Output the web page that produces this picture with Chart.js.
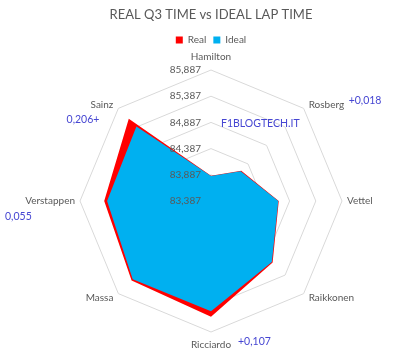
<!DOCTYPE html>
<html>
<head>
<meta charset="utf-8">
<script src="https://cdn.jsdelivr.net/npm/chart.js@4"></script>
<style>
  html, body { margin: 0; padding: 0; background: #fff; }
  #wrap { width: 420px; height: 353px; }
</style>
</head>
<body>
<div id="wrap"><canvas id="radar" width="420" height="353"></canvas></div>
<script>
// piloti (assi) e tempi in secondi
const drivers = ['Hamilton', 'Rosberg', 'Vettel', 'Raikkonen', 'Ricciardo', 'Massa', 'Verstappen', 'Sainz'];
const realTimes  = [83.870, 84.205, 84.680, 85.050, 85.597, 85.530, 85.425, 85.606];
const idealTimes = [83.864, 84.187, 84.671, 85.030, 85.490, 85.500, 85.370, 85.400];
const tickValues = [83.387, 83.887, 84.387, 84.887, 85.387, 85.887];
const tickLabels = ['83,387', '83,887', '84,387', '84,887', '85,387', '85,887'];
// note a mano sul grafico: [indice pilota, testo]
const gapNotes = [[1, '+0,018'], [4, '+0,107'], [6, '0,055'], [7, '0,206+']];

const textGrey = '#595959';
const noteBlue = '#4646d2';
const FONT = 'Lato, "Open Sans", sans-serif';

/* -------- etichette, tick e note -------- */
const radarText = {
  id: 'radarText',
  afterDraw(chart) {
    const r = chart.scales.r;
    const ctx = chart.ctx;
    const R = r.drawingArea;
    ctx.save();
    ctx.font = '10px ' + FONT;
    ctx.fillStyle = textGrey;

    // valori della scala, a sinistra dell'asse Hamilton
    ctx.textAlign = 'right';
    ctx.textBaseline = 'middle';
    tickValues.forEach((v, i) => {
      const d = r.getDistanceFromCenterForValue(v);
      ctx.fillText(tickLabels[i], r.xCenter - 10, r.yCenter - d);
    });

    // nomi piloti
    drivers.forEach((name, i) => {
      const p = r.getPointPosition(i, R);
      let x = p.x, y = p.y;
      if (i === 0) { ctx.textAlign = 'center'; y -= 13; }
      else if (i === 4) { ctx.textAlign = 'center'; y += 13; }
      else if (i < 4) { ctx.textAlign = 'left'; x += 5; y += (i === 1 ? -4 : i === 3 ? 4 : 0); }
      else { ctx.textAlign = 'right'; x -= 5; y += (i === 7 ? -4 : i === 5 ? 4 : 0); }
      ctx.fillText(name, x, y);
    });

    // note sui distacchi
    ctx.fillStyle = noteBlue;
    ctx.font = '10.5px ' + FONT;
    gapNotes.forEach(([i, txt]) => {
      const p = r.getPointPosition(i, R);
      if (i === 1) { ctx.textAlign = 'left'; ctx.fillText(txt, p.x + 45, p.y - 8); }
      if (i === 4) { ctx.textAlign = 'left'; ctx.fillText(txt, p.x + 27, p.y + 10); }
      if (i === 6) { ctx.textAlign = 'left'; ctx.fillText(txt, p.x - 75, p.y + 16); }
      if (i === 7) { ctx.textAlign = 'right'; ctx.fillText(txt, p.x - 19, p.y + 11); }
    });

    ctx.textAlign = 'left';
    ctx.fillText('F1BLOGTECH.IT', r.xCenter + 10, r.yCenter - r.getDistanceFromCenterForValue(84.887) + 1);
    ctx.restore();
  }
};

new Chart(document.getElementById('radar').getContext('2d'), {
  type: 'radar',
  data: {
    labels: drivers,
    datasets: [
      { label: 'Real', data: realTimes, backgroundColor: '#ff0000', borderWidth: 0, fill: true, pointRadius: 0, order: 2 },
      { label: 'Ideal', data: idealTimes, backgroundColor: '#00b0f0', borderWidth: 0, fill: true, pointRadius: 0, order: 1 }
    ]
  },
  options: {
    responsive: false,
    animation: false,
    layout: { padding: { left: 80, right: 78, top: 0, bottom: 6 } },
    elements: { line: { tension: 0 } },
    scales: {
      r: {
        min: 83.387,
        max: 85.887,
        afterBuildTicks: s => { s.ticks = tickValues.map(v => ({ value: v })); },
        ticks: { display: false },
        pointLabels: { display: false },
        angleLines: { display: false },
        grid: { circular: false, color: '#d9d9d9', lineWidth: 1 }
      }
    },
    plugins: {
      title: {
        display: true,
        text: 'REAL Q3 TIME vs IDEAL LAP TIME',
        color: textGrey,
        font: { family: FONT, size: 13, weight: 'normal' },
        padding: { top: 7, bottom: 5.4 }
      },
      legend: {
        display: true,
        labels: {
          color: textGrey,
          font: { family: FONT, size: 10 },
          boxWidth: 7,
          boxHeight: 7,
          padding: 7,
          sort: (a, b) => a.datasetIndex - b.datasetIndex
        }
      },
      tooltip: { enabled: false }
    }
  },
  plugins: [radarText]
});
</script>
</body>
</html>
